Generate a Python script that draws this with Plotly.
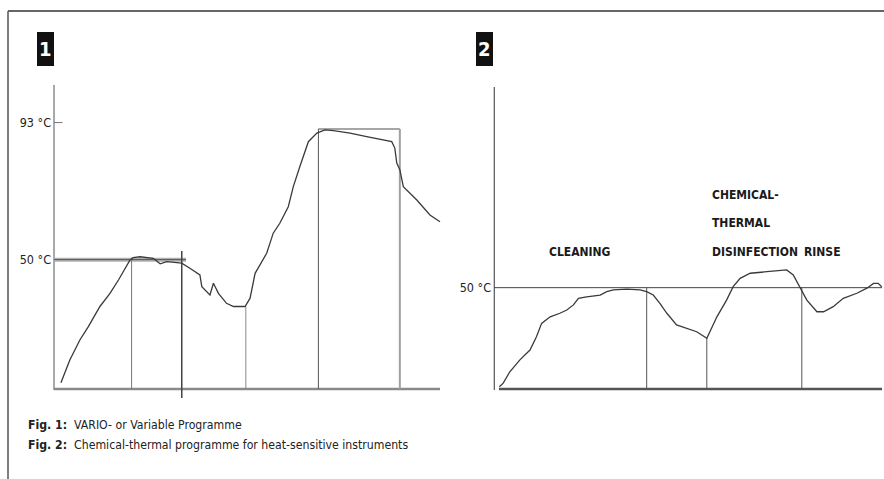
import plotly.graph_objects as go

# ---------------- data ----------------
# Fig. 1: VARIO programme (time in arbitrary units 0-100, temperature in °C)
p1_time = [1.8, 4.1, 6.7, 8.9, 11.9, 14.5, 16.7, 18.4, 19.7, 20.5, 22.3, 25.7, 27.5, 29.2,
           33.1, 35.2, 37.8, 38.3, 40.4, 41.3, 42.6, 44.7, 46.5, 49.5, 50.8, 52.1, 55.1,
           56.8, 58.5, 60.7, 62.0, 63.7, 64.6, 65.9, 68.1, 70.2, 72.4, 76.7, 81.0, 85.3,
           87.5, 88.3, 88.8, 89.6, 90.5, 94.0, 97.4, 100.0]
p1_temp = [11.4, 18.5, 24.8, 29.0, 35.3, 39.4, 43.6, 47.3, 49.9, 50.6, 50.9, 50.4, 48.7, 49.4,
           48.9, 47.3, 45.2, 41.5, 38.9, 42.6, 39.4, 36.3, 35.3, 35.3, 37.9, 45.7, 52.0,
           58.3, 61.4, 66.6, 72.9, 79.2, 82.3, 87.0, 89.7, 90.7, 90.5, 89.7, 88.6, 87.6,
           87.0, 85.0, 80.3, 78.2, 72.9, 68.7, 64.0, 61.9]
p1_phase_time = [20.1, 33.1, 49.7, 68.5, 89.6]
p1_phase_top = [50.6, 52.7, 35.3, 91.0, 91.0]
p1_hold_50 = [0.0, 34.2]
p1_hold_93 = [68.5, 89.6]
p1_hold_93_temp = 91.0
p1_tick_vals = [50, 93]
p1_tick_text = ["50 °C", "93 °C"]
p1_base = 9.4

# Fig. 2: chemical-thermal programme
p2_time = [1.3, 2.3, 4.0, 6.6, 9.2, 10.9, 12.2, 14.4, 16.9, 18.7, 20.4, 21.7, 23.8, 27.3,
           29.0, 30.7, 34.2, 37.6, 39.3, 41.0, 42.7, 44.5, 47.0, 49.6, 52.2, 53.9, 54.8,
           55.6, 57.4, 59.9, 61.6, 63.4, 66.0, 70.3, 75.4, 77.1, 78.8, 80.6, 83.2, 84.9,
           87.4, 90.0, 93.5, 96.1, 97.8, 99.0, 99.9]
p2_temp = [10.9, 12.3, 16.8, 21.5, 25.4, 30.7, 35.9, 38.5, 39.9, 41.2, 43.2, 45.8, 46.4, 47.1,
           48.4, 49.1, 49.4, 49.1, 48.4, 47.1, 43.8, 39.9, 35.3, 34.0, 32.6, 30.9, 30.0,
           32.6, 38.5, 45.1, 50.4, 53.7, 55.7, 56.3, 57.0, 55.0, 50.4, 45.1, 40.5, 40.5,
           42.5, 45.8, 47.8, 49.8, 51.7, 51.7, 50.4]
p2_phase_time = [39.3, 54.8, 79.3]
p2_phase_top = [50.0, 30.0, 50.0]
p2_tick_vals = [50]
p2_tick_text = ["50 °C"]
p2_base = 10.0
p2_phase_labels = ["CLEANING", "CHEMICAL-", "THERMAL", "DISINFECTION", "RINSE"]
p2_label_time = [22.1, 55.6, 55.6, 55.6, 79.4]
p2_label_temp = [64.2, 86.6, 75.5, 64.2, 64.2]

captions = ["<b>Fig. 1:</b>  VARIO- or Variable Programme",
            "<b>Fig. 2:</b>  Chemical-thermal programme for heat-sensitive instruments"]

# ---------------- layout helpers ----------------
W, H = 884, 479
def py(px):
    return 1 - px / H
def pxx(px):
    return px / W

NARROW = "DejaVu Sans Condensed, DejaVu Sans, sans-serif"
def nfont(size, color="#222"):
    return dict(family=NARROW, size=size, color=color)

CURVE = "#3a3a3a"

fig = go.Figure()

def line(x, y, xa, ya, color, width):
    fig.add_trace(go.Scatter(x=x, y=y, mode="lines", xaxis=xa, yaxis=ya,
                             line=dict(color=color, width=width),
                             hoverinfo="skip", showlegend=False))

# ----- panel 1 -----
line([0, 0], [9.1, 104.8], "x", "y", "#555", 1)                  # y axis
line([0, 100], [p1_base, p1_base], "x", "y", "#8a8a8a", 2.5)     # base line
line(p1_hold_50, [50, 50], "x", "y", "#b0b0b0", 4)
line(p1_hold_50, [50, 50], "x", "y", "#555", 1)
line(p1_hold_93, [p1_hold_93_temp] * 2, "x", "y", "#888", 1.5)
line([0, 2.2], [93, 93], "x", "y", "#777", 1)                     # 93 tick
styles1 = [("#777", 1), ("#444", 1.5), ("#888", 1), ("#555", 1), ("#a0a0a0", 2)]
bottoms1 = [p1_base, 6.6, p1_base, p1_base, p1_base]
for t, top, b, (c, w) in zip(p1_phase_time, p1_phase_top, bottoms1, styles1):
    line([t, t], [b, top], "x", "y", c, w)
line(p1_time, p1_temp, "x", "y", CURVE, 1.3)

# ----- panel 2 -----
line([0, 0], [9.6, 129.25], "x2", "y2", "#555", 1.2)
line([1.2, 100], [p2_base, p2_base], "x2", "y2", "#555", 2.5)
line([0, 100], [50, 50], "x2", "y2", "#444", 1)
for t, top in zip(p2_phase_time, p2_phase_top):
    line([t, t], [p2_base, top], "x2", "y2", "#555", 1)
line(p2_time, p2_temp, "x2", "y2", CURVE, 1.3)

axis_common = dict(showgrid=False, zeroline=False, showline=False, ticks="",
                   fixedrange=True)
fig.update_layout(
    width=W, height=H, margin=dict(l=0, r=0, t=0, b=0),
    paper_bgcolor="white", plot_bgcolor="white",
    xaxis=dict(domain=[pxx(50), pxx(444)], range=[-1.036, 101.04], showticklabels=False,
               anchor="y", **axis_common),
    yaxis=dict(domain=[py(400), py(84)], range=[5.96, 105.1], anchor="x",
               tickvals=p1_tick_vals, ticktext=p1_tick_text,
               tickfont=nfont(12.5), ticklabelstandoff=-2, **axis_common),
    xaxis2=dict(domain=[pxx(490), 1.0], range=[-1.11, 100.5], showticklabels=False,
                anchor="y2", **axis_common),
    yaxis2=dict(domain=[py(400), py(84)], range=[5.66, 130.4], anchor="x2",
                tickvals=p2_tick_vals, ticktext=p2_tick_text,
                tickfont=nfont(12.5), ticklabelstandoff=-2, **axis_common),
)

# frame
fig.add_shape(type="line", xref="paper", yref="paper", x0=pxx(8), x1=1, y0=py(11), y1=py(11),
              line=dict(color="#666", width=2))
fig.add_shape(type="line", xref="paper", yref="paper", x0=pxx(8), x1=pxx(8), y0=py(11), y1=0,
              line=dict(color="#555", width=1.5))

# panel number boxes
for num, x0 in (("1", 37), ("2", 476)):
    fig.add_shape(type="rect", xref="paper", yref="paper", x0=pxx(x0), x1=pxx(x0 + 17),
                  y0=py(66), y1=py(32), fillcolor="#111", line=dict(width=0), layer="below")
    fig.add_annotation(text="<b>%s</b>" % num, xref="paper", yref="paper",
                       x=pxx(x0 + 8.5), y=py(49), xanchor="center", yanchor="middle",
                       showarrow=False, font=nfont(20, "white"))

# phase labels
for txt, t, v in zip(p2_phase_labels, p2_label_time, p2_label_temp):
    fig.add_annotation(text="<b>%s</b>" % txt, xref="x2", yref="y2", x=t, y=v,
                       xanchor="center" if txt == "CLEANING" else "left", yanchor="middle",
                       showarrow=False, font=nfont(12, "#1a1a1a"))

# captions
for i, cap in enumerate(captions):
    fig.add_annotation(text=cap, xref="paper", yref="paper", x=pxx(26), y=py(425 + 20 * i),
                       xanchor="left", yanchor="middle", showarrow=False, font=nfont(12.2))

fig.write_html("out.html", post_script="document.body.style.margin='0';",
               config={"displayModeBar": False})
